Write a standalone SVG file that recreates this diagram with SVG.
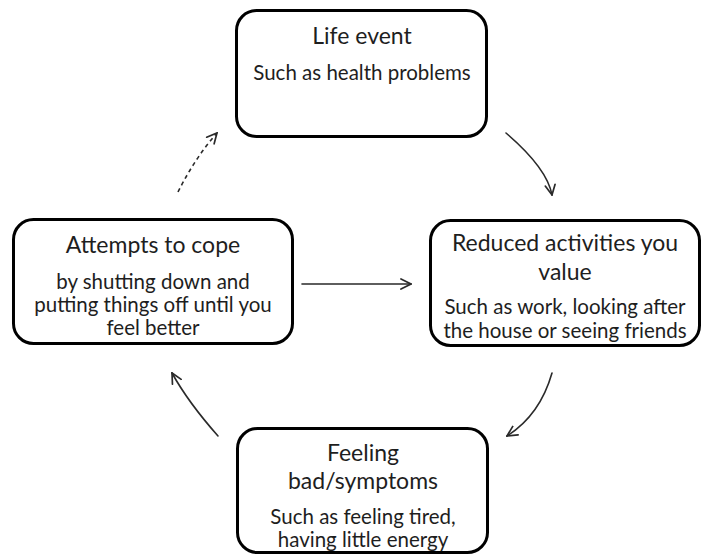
<svg xmlns="http://www.w3.org/2000/svg" width="704" height="559" viewBox="0 0 704 559">
  <style>
    .box { fill: #ffffff; stroke: #000000; stroke-width: 3; }
    .title { font-family: Lato, "Liberation Sans", sans-serif; font-size: 23px; fill: #1e1e1e; text-anchor: middle; }
    .sub { font-family: Lato, "Liberation Sans", sans-serif; font-size: 20.5px; fill: #1e1e1e; text-anchor: middle; }
    .link { fill: none; stroke: #2a2a2a; stroke-width: 1.6; stroke-linecap: round; }
    .dash { stroke-dasharray: 4 3.5; stroke-linecap: butt; }
  </style>
  <defs>
    <marker id="arrow" viewBox="0 0 12 12" refX="11" refY="6" markerWidth="12" markerHeight="12" markerUnits="userSpaceOnUse" orient="auto">
      <path d="M1,1 L11,6 L1,11" fill="none" stroke="#2a2a2a" stroke-width="1.7" stroke-linecap="round" stroke-linejoin="miter"/>
    </marker>
  </defs>

  <rect width="704" height="559" fill="#ffffff"/>

  <!-- cycle connectors -->
  <g id="connectors">
    <path class="link" d="M506,133 Q547,168 552,195" marker-end="url(#arrow)"/>
    <path class="link" d="M552,373 Q540,415 507,436" marker-end="url(#arrow)"/>
    <path class="link" d="M218,436 Q188,402 172,373" marker-end="url(#arrow)"/>
    <path class="link dash" d="M178,192 Q195,158 217,133" marker-end="url(#arrow)"/>
    <path class="link" d="M302,284 L411,284" marker-end="url(#arrow)"/>
  </g>

  <g id="life-event">
    <rect class="box" x="236.5" y="10.5" width="250" height="126" rx="20"/>
    <text class="title" x="362" y="44">Life event</text>
    <text class="sub" x="362" y="80">Such as health problems</text>
  </g>

  <g id="reduced-activities">
    <rect class="box" x="430.5" y="220.5" width="269" height="125" rx="20"/>
    <text class="title" x="565" y="251">Reduced activities you</text>
    <text class="title" x="565" y="280">value</text>
    <text class="sub" x="565" y="314">Such as work, looking after</text>
    <text class="sub" x="565" y="338">the house or seeing friends</text>
  </g>

  <g id="feeling-bad">
    <rect class="box" x="237.5" y="428.5" width="250" height="124" rx="20"/>
    <text class="title" x="363" y="461">Feeling</text>
    <text class="title" x="363" y="489">bad/symptoms</text>
    <text class="sub" x="363" y="524">Such as feeling tired,</text>
    <text class="sub" x="363" y="547">having little energy</text>
  </g>

  <g id="attempts-to-cope">
    <rect class="box" x="13.5" y="219.5" width="279" height="124" rx="20"/>
    <text class="title" x="153" y="253">Attempts to cope</text>
    <text class="sub" x="153" y="289">by shutting down and</text>
    <text class="sub" x="153" y="312">putting things off until you</text>
    <text class="sub" x="153" y="335">feel better</text>
  </g>
</svg>
